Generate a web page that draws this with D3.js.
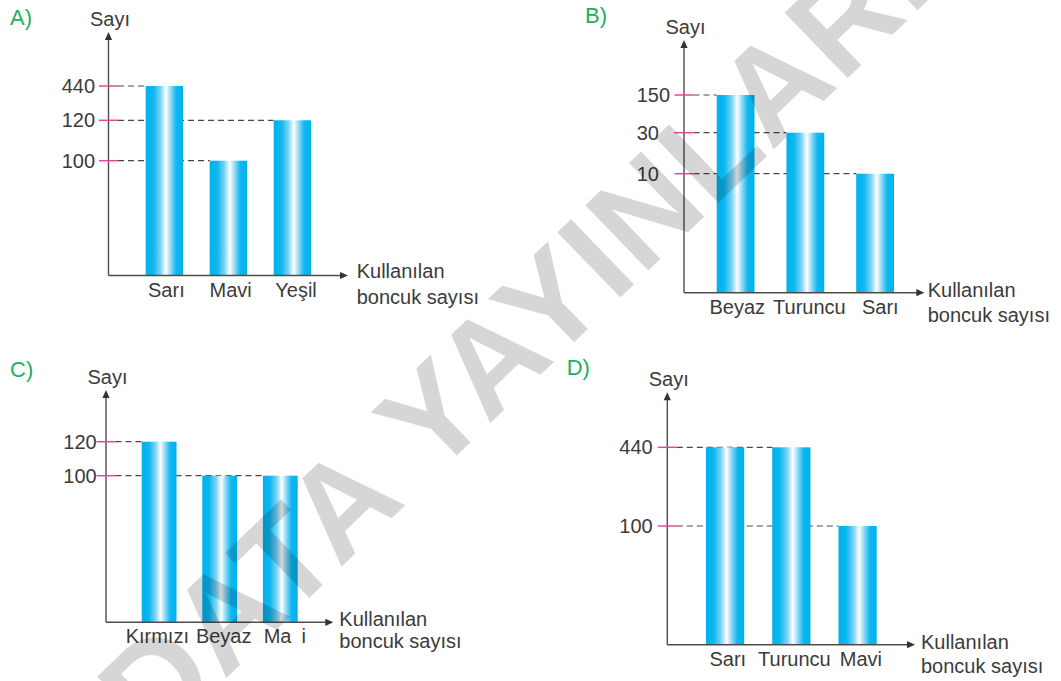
<!DOCTYPE html>
<html>
<head>
<meta charset="utf-8">
<script src="https://cdn.jsdelivr.net/npm/d3@7"></script>
<style>
  html, body { margin: 0; padding: 0; background: #fff; }
  svg { display: block; }
  svg text { font-family: "Liberation Sans", Arial, Helvetica, sans-serif; }
</style>
</head>
<body>
<svg id="chart" width="1061" height="681"></svg>
<script>
// ---- data ----
const catsA = ["Sarı", "Mavi", "Yeşil"];
const valsA = [440, 100, 120];
const ticksA = [100, 120, 440];

const catsB = ["Beyaz", "Turuncu", "Sarı"];
const valsB = [150, 30, 10];
const ticksB = [10, 30, 150];

const catsC = ["Kırmızı", "Beyaz", "Mavi"];
const valsC = [120, 100, 100];
const ticksC = [100, 120];

const catsD = ["Sarı", "Turuncu", "Mavi"];
const valsD = [440, 440, 100];
const ticksD = [100, 440];

const panelLetters = ["A)", "B)", "C)", "D)"];
const yTitle = "Sayı";
const xTitle = ["Kullanılan", "boncuk sayısı"];
const watermark = "DATA YAYINLARI";

// ---- layout (pixel geometry of each small chart) ----
const layouts = [
  { ox: 108.5, oy: 275.5, top: 32,    right: 348,   tickY: [160.7, 120.3, 86], band: [145.7, 311],   pad: 0.417, letter: [10, 24.5],   labelLeft: 61.7,  labelDx: [2, 2.3, 3.7],  xt: [356.7, 278.3, 304] },
  { ox: 684,   oy: 292.7, top: 40,    right: 924.3, tickY: [173.7, 132.7, 95], band: [716.7, 894],   pad: 0.458, letter: [585, 23.3],  labelLeft: 636.7, labelDx: [1.7, 4, 5.2],  xt: [927.7, 296.7, 321.7] },
  { ox: 106,   oy: 622.3, top: 390,   right: 333.3, tickY: [475.7, 441.7],     band: [141.7, 297.7], pad: 0.426, letter: [10, 376.7],  labelLeft: 63.3,  labelDx: [-1.8, 4, 4.5], xt: [339.3, 625.7, 647.7] },
  { ox: 667.3, oy: 644.7, top: 392.3, right: 915,   tickY: [526, 447.3],       band: [706, 876.7],   pad: 0.423, letter: [566.7, 375], labelLeft: 619.3, labelDx: [2.7, 3, 3.3],  xt: [921, 649, 673.3] }
];

const panels = [
  { cats: catsA, vals: valsA, ticks: ticksA },
  { cats: catsB, vals: valsB, ticks: ticksB },
  { cats: catsC, vals: valsC, ticks: ticksC },
  { cats: catsD, vals: valsD, ticks: ticksD }
];

const FONT = "'Liberation Sans', Arial, Helvetica, sans-serif";
const textColor = "#3b3b3b";
const axisColor = "#4d4d4d";
const pink = "#e6479b";
const green = "#1faf5a";

const svg = d3.select("#chart");
svg.append("rect").attr("width", 1061).attr("height", 681).attr("fill", "#fff");

// cylinder-like shading of the bars
const defs = svg.append("defs");
const grad = defs.append("linearGradient").attr("id", "barShade")
  .attr("x1", "0%").attr("x2", "100%").attr("y1", "0%").attr("y2", "0%");
[
  [0, "#00b1ec"], [0.2, "#0bb7ef"], [0.4, "#7fd4f6"], [0.54, "#ffffff"],
  [0.68, "#86d6f6"], [0.82, "#0eb8ef"], [1, "#00b1ec"]
].forEach(([o, c]) => grad.append("stop").attr("offset", o).attr("stop-color", c));

panels.forEach((p, i) => {
  const L = layouts[i];
  const g = svg.append("g");

  const x = d3.scaleBand().domain(p.cats).range(L.band).paddingInner(L.pad).paddingOuter(0);
  // the value axis is not proportional: each labelled value sits at its own height
  const y = d3.scaleLinear().domain([0, ...p.ticks]).range([L.oy, ...L.tickY]);

  // dashed guides from the axis to the last bar carrying that value
  p.ticks.forEach(t => {
    const idx = p.vals.map((v, k) => v === t ? k : -1).filter(k => k >= 0);
    if (!idx.length) return;
    const endX = x(p.cats[d3.max(idx)]);
    g.append("line")
      .attr("x1", L.ox + 9.5).attr("x2", endX)
      .attr("y1", y(t)).attr("y2", y(t))
      .attr("stroke", "#4a4a4a").attr("stroke-width", 1.2)
      .attr("stroke-dasharray", "6,4");
  });

  // bars
  g.selectAll("rect.bar").data(p.cats.map((c, k) => ({ c, v: p.vals[k] })))
    .join("rect").attr("class", "bar")
    .attr("x", d => x(d.c))
    .attr("width", x.bandwidth())
    .attr("y", d => y(d.v))
    .attr("height", d => L.oy - y(d.v))
    .attr("fill", "url(#barShade)");

  // axes lines with arrow heads
  g.append("line").attr("x1", L.ox).attr("x2", L.ox).attr("y1", L.oy).attr("y2", L.top + 4)
    .attr("stroke", axisColor).attr("stroke-width", 1.4);
  g.append("line").attr("x1", L.ox).attr("x2", L.right - 4).attr("y1", L.oy).attr("y2", L.oy)
    .attr("stroke", axisColor).attr("stroke-width", 1.4);
  g.append("path")
    .attr("d", `M${L.ox},${L.top} L${L.ox - 3.6},${L.top + 8} L${L.ox + 3.6},${L.top + 8} Z`)
    .attr("fill", "#333");
  g.append("path")
    .attr("d", `M${L.right},${L.oy} L${L.right - 8},${L.oy - 3.6} L${L.right - 8},${L.oy + 3.6} Z`)
    .attr("fill", "#333");

  // pink tick marks across the value axis
  g.selectAll("line.tick-mark").data(p.ticks).join("line").attr("class", "tick-mark")
    .attr("x1", L.ox - 9.5).attr("x2", L.ox + 9.5)
    .attr("y1", d => y(d)).attr("y2", d => y(d))
    .attr("stroke", pink).attr("stroke-width", 1.5);

  // value labels
  const ya = g.append("g").attr("transform", `translate(${L.ox},0)`)
    .call(d3.axisLeft(y).tickValues(p.ticks).tickSize(0).tickFormat(d3.format("d")))
    .attr("font-family", FONT).attr("font-size", 20);
  ya.select(".domain").remove();
  ya.selectAll("text")
    .attr("x", L.labelLeft - L.ox)
    .attr("text-anchor", "start")
    .attr("fill", textColor)
    .style("font-family", FONT)
    .style("font-size", "20px");

  // category labels
  const xa = g.append("g").attr("transform", `translate(0,${L.oy})`)
    .call(d3.axisBottom(x).tickSize(0).tickPadding(7))
    .attr("font-family", FONT).attr("font-size", 20);
  xa.select(".domain").remove();
  xa.selectAll("text")
    .attr("dx", (d, k) => L.labelDx[k])
    .attr("fill", textColor)
    .style("font-family", FONT)
    .style("font-size", "20px");
  if (i === 2) {
    // the "v" of Mavi is knocked out in this panel
    xa.selectAll("text").filter(d => d === "Mavi").each(function () {
      const t = d3.select(this).text("");
      t.append("tspan").text("Ma");
      t.append("tspan").attr("fill-opacity", 0).text("v");
      t.append("tspan").text("i");
    });
  }

  // titles
  g.append("text").attr("x", L.ox + 1.5).attr("y", L.top - 6)
    .attr("text-anchor", "middle").attr("fill", textColor)
    .style("font-size", "20px").text(yTitle);
  g.append("text").attr("x", L.xt[0]).attr("y", L.xt[1])
    .attr("fill", textColor).style("font-size", "20px").text(xTitle[0]);
  g.append("text").attr("x", L.xt[0]).attr("y", L.xt[2])
    .attr("fill", textColor).style("font-size", "20px").text(xTitle[1]);

  g.append("text").attr("x", L.letter[0]).attr("y", L.letter[1])
    .attr("fill", green).style("font-size", "22px").text(panelLetters[i]);
});

// publisher watermark across the page
svg.append("text")
  .attr("transform", "translate(154,748) rotate(-44)")
  .attr("fill", "#000").attr("fill-opacity", 0.16)
  .style("font-size", "132px").style("font-weight", "bold")
  .style("letter-spacing", "2px")
  .style("font-family", FONT)
  .text(watermark);
</script>
</body>
</html>
